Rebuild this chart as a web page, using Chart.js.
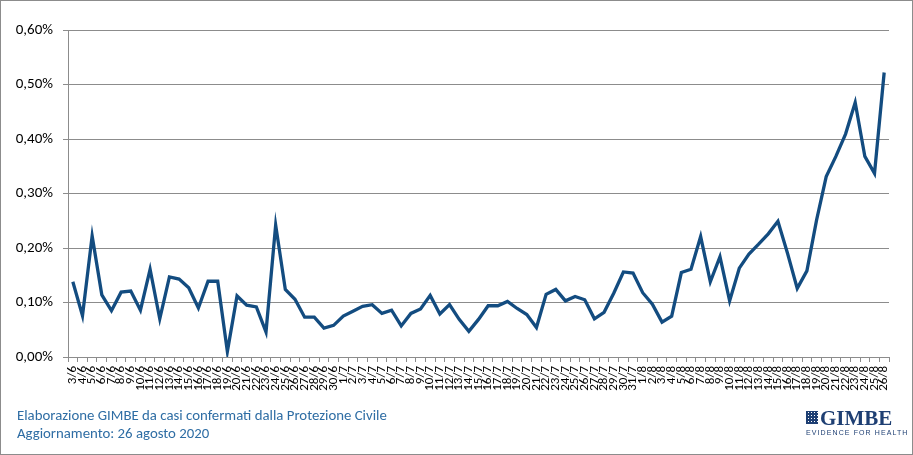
<!DOCTYPE html>
<html>
<head>
<meta charset="utf-8">
<script src="https://cdn.jsdelivr.net/npm/chart.js@4/dist/chart.umd.min.js"></script>
<style>
  body { margin:0; background:#fff; }
  #wrap { position:relative; width:913px; height:455px; }
  #frame { position:absolute; left:0; top:0; width:913px; height:455px; box-sizing:border-box; border:1px solid #8c8c8c; pointer-events:none; }
  .note { position:absolute; left:17px; font:14.8px Carlito, Lato, sans-serif; color:#2e6da4; white-space:nowrap; }
  #logo { position:absolute; left:806px; top:408px; color:#1e3f73; }
  #logo .name { font:bold 21px "Liberation Serif", serif; line-height:20px; padding-left:14px; }
  #logo .icon { position:absolute; left:0; top:3px; width:12px; height:13px;
    background:
      repeating-linear-gradient(90deg, #1e3f73 0 2px, #fff 2px 3px),
      #1e3f73; }
  #logo .icon:after { content:""; position:absolute; inset:0;
    background: repeating-linear-gradient(0deg, #1e3f73 0 2px, transparent 2px 3px); }
  #logo .tag { font:7px "Liberation Sans", sans-serif; letter-spacing:1.1px; margin-top:1px; white-space:nowrap; }
</style>
</head>
<body>
<div id="wrap">
  <canvas id="chart" width="913" height="455"></canvas>
  <div class="note" style="top:406px">Elaborazione GIMBE da casi confermati dalla Protezione Civile</div>
  <div class="note" style="top:424px">Aggiornamento: 26 agosto 2020</div>
  <div id="logo"><div class="icon"></div><div class="name">GIMBE</div><div class="tag">EVIDENCE FOR HEALTH</div></div>
  <div id="frame"></div>
</div>
<script>
/* ---- dati ---- */
const giorni = [
  '3/6','4/6','5/6','6/6','7/6','8/6','9/6','10/6','11/6','12/6','13/6','14/6','15/6','16/6','17/6','18/6',
  '19/6','20/6','21/6','22/6','23/6','24/6','25/6','26/6','27/6','28/6','29/6','30/6',
  '1/7','2/7','3/7','4/7','5/7','6/7','7/7','8/7','9/7','10/7','11/7','12/7','13/7','14/7','15/7','16/7',
  '17/7','18/7','19/7','20/7','21/7','22/7','23/7','24/7','25/7','26/7','27/7','28/7','29/7','30/7','31/7',
  '1/8','2/8','3/8','4/8','5/8','6/8','7/8','8/8','9/8','10/8','11/8','12/8','13/8','14/8','15/8','16/8',
  '17/8','18/8','19/8','20/8','21/8','22/8','23/8','24/8','25/8','26/8'
];

// % positivi su casi testati
const percentuale = [
  0.138,0.076,0.222,0.114,0.085,0.119,0.121,0.086,0.161,0.070,0.147,0.143,0.127,0.090,0.139,0.139,
  0.010,0.112,0.095,0.092,0.046,0.242,0.124,0.106,0.073,0.073,0.053,0.058,
  0.075,0.084,0.093,0.096,0.080,0.086,0.057,0.080,0.088,0.113,0.079,0.096,0.069,0.047,0.069,0.094,
  0.094,0.102,0.089,0.078,0.054,0.115,0.124,0.103,0.111,0.105,0.070,0.082,0.117,0.156,0.154,
  0.118,0.097,0.064,0.075,0.155,0.161,0.221,0.138,0.184,0.103,0.163,0.189,0.207,0.226,0.249,0.190,
  0.126,0.158,0.251,0.331,0.368,0.409,0.467,0.368,0.337,0.522
];

const yMin = 0, yMax = 0.6, yStep = 0.1;

const FONT = 'Carlito, Lato, sans-serif';
const GRIGIO = '#8c8c8c';

/* ---- grafico ---- */
const ctx = document.getElementById('chart').getContext('2d');
new Chart(ctx, {
  type: 'line',
  data: {
    labels: giorni,
    datasets: [{
      data: percentuale,
      borderColor: '#134c80',
      borderWidth: 3.3,
      pointRadius: 0,
      tension: 0,
      fill: false
    }]
  },
  options: {
    responsive: false,
    animation: false,
    layout: { padding: { top: 30, right: 24, left: 0, bottom: 0 } },
    plugins: { legend: { display: false }, tooltip: { enabled: false } },
    scales: {
      x: {
        offset: true,
        grid: { offset: true, drawOnChartArea: false, color: GRIGIO, tickLength: 5 },
        border: { color: GRIGIO },
        ticks: {
          autoSkip: false, maxRotation: 90, minRotation: 90, padding: 4,
          color: '#000', font: { family: FONT, size: 13 }
        },
        afterFit: s => { s.height = 98; }
      },
      y: {
        min: yMin, max: yMax,
        grid: { color: GRIGIO, tickLength: 5 },
        border: { color: GRIGIO },
        ticks: {
          stepSize: yStep, padding: 10, color: '#000',
          font: { family: FONT, size: 15 },
          callback: v => v.toFixed(2).replace('.', ',') + '%'
        },
        afterFit: s => { s.width = 68; }
      }
    }
  }
});
</script>
</body>
</html>
